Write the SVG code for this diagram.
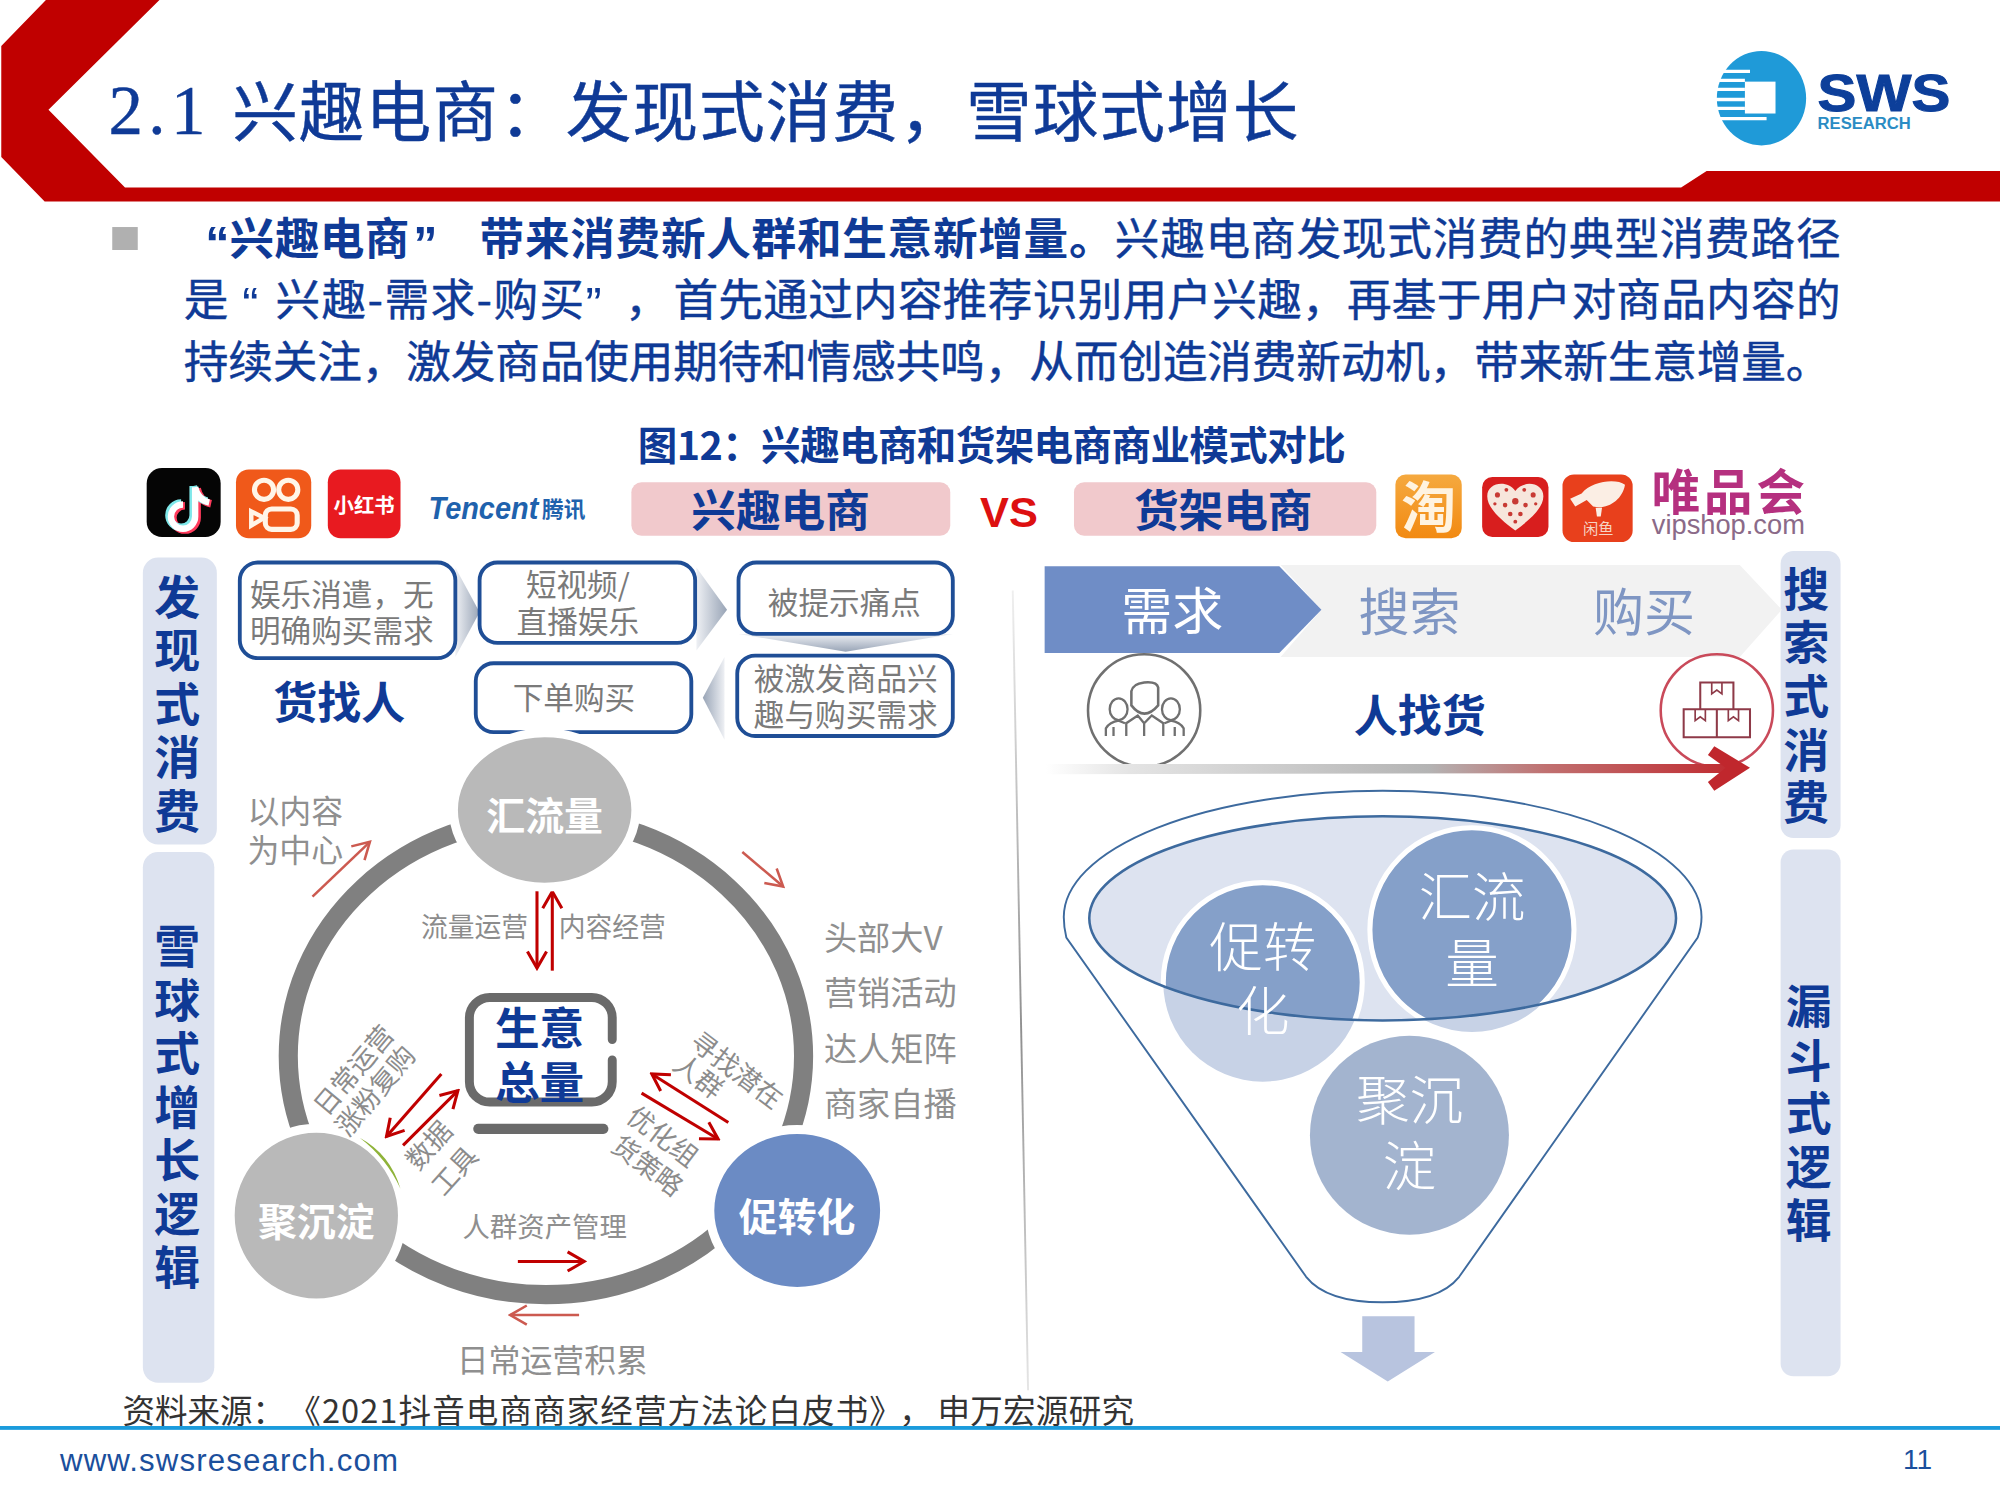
<svg xmlns="http://www.w3.org/2000/svg" width="2000" height="1500" viewBox="0 0 2000 1500">
<style>
text{font-family:"Noto Sans CJK SC","Liberation Sans",sans-serif}
.blue{fill:#0f3a96}
.b{font-weight:700}
.w{stroke:#0f3a96;stroke-width:.35}
.side{font-weight:700;font-size:36px;fill:#0f3a96;text-anchor:middle}
.sidebg{fill:#dde3f0}
.box{fill:#fff;stroke:#1f4e96;stroke-width:3}
.boxt{font-size:24px;fill:#7a7a7a;text-anchor:middle}
.g{fill:#8f8f8f}
.dl{font-size:21px;fill:#8c8c8c;text-anchor:middle}
.nt{font-size:30.5px;font-weight:700;fill:#fff;text-anchor:middle}
.ft{font-size:42px;fill:#fff;text-anchor:middle;font-weight:300}
.sv{font-family:"Liberation Sans",sans-serif}
.ra{fill:none;stroke:#c00000;stroke-width:2.4;marker-end:url(#arD)}
.rl{fill:none;stroke:#cc5a50;stroke-width:2;marker-end:url(#arL)}
.fl{fill:none;stroke:#3d6a9e}
</style>
<defs>
<marker id="arD" viewBox="-15 -9 17 18" refX="0" refY="0" markerWidth="17" markerHeight="18" orient="auto" markerUnits="userSpaceOnUse"><path d="M-13 -7.5L0 0L-13 7.5" fill="none" stroke="#c00000" stroke-width="2.4"/></marker>
<marker id="arL" viewBox="-15 -9 17 18" refX="0" refY="0" markerWidth="17" markerHeight="18" orient="auto" markerUnits="userSpaceOnUse"><path d="M-13 -7.5L0 0L-13 7.5" fill="none" stroke="#cc5a50" stroke-width="2"/></marker>
<linearGradient id="chevR" x1="0" x2="1" y1="0" y2="0"><stop offset="0" stop-color="#eef0f4"/><stop offset="1" stop-color="#98a4b6"/></linearGradient>
<linearGradient id="chevL" x1="1" x2="0" y1="0" y2="0"><stop offset="0" stop-color="#eef0f4"/><stop offset="1" stop-color="#98a4b6"/></linearGradient>
<linearGradient id="chevD" x1="0" x2="0" y1="0" y2="1"><stop offset="0" stop-color="#eef0f4"/><stop offset="1" stop-color="#98a4b6"/></linearGradient>
<linearGradient id="ga" gradientUnits="userSpaceOnUse" x1="820" x2="1365" y1="0" y2="0"><stop offset="0" stop-color="#fff"/><stop offset=".12" stop-color="#e4e4e4"/><stop offset=".55" stop-color="#b4b4b4"/><stop offset=".72" stop-color="#c07070"/><stop offset="1" stop-color="#c0272d"/></linearGradient>
<linearGradient id="dv" gradientUnits="userSpaceOnUse" x1="0" x2="0" y1="460" y2="1092"><stop offset="0" stop-color="#f0f0f0"/><stop offset=".55" stop-color="#8f8f8f"/><stop offset="1" stop-color="#e6e6e6"/></linearGradient>
<linearGradient id="tb" x1="0" x2="0" y1="0" y2="1"><stop offset="0" stop-color="#f5a93f"/><stop offset="1" stop-color="#f28a12"/></linearGradient>
<clipPath id="inEl"><ellipse cx="1084" cy="720" rx="230" ry="80"/></clipPath>
</defs>
<rect width="2000" height="1500" fill="#fff"/>
<g transform="scale(1.27551)">
<g id="header">
<polygon points="36,0 125,0 38,86 98,147 1318,147 1338,134 1568,134 1568,158 35,158 1,123 1,36" fill="#c00000"/>
<text x="85" y="105" font-size="54" class="blue w" style="font-family:'Liberation Serif',serif" textLength="76">2.1</text>
<text x="182" y="107" font-size="51.5" class="blue w" textLength="836">兴趣电商：发现式消费，雪球式增长</text>
</g>
<g id="logo-sws">
<ellipse cx="1381" cy="77" rx="35" ry="37" fill="#1f9ad8"/>
<rect x="1368" y="64" width="24" height="25" fill="#fff"/>
<path d="M1342 56H1372M1342 63H1368M1342 70H1368M1342 78H1368M1342 85H1368M1346 93H1385" stroke="#fff" stroke-width="2.6" fill="none"/>
<text x="1425" y="87" font-size="41" font-weight="700" fill="#0d3f9a" stroke="#0d3f9a" stroke-width=".8" class="sv" textLength="104" lengthAdjust="spacingAndGlyphs">SWS</text>
<text x="1425" y="101" font-size="12.5" font-weight="700" fill="#2a8cc4" class="sv" textLength="73" lengthAdjust="spacingAndGlyphs">RESEARCH</text>
</g>
<g id="intro">
<rect x="88" y="178" width="20" height="18" fill="#b0b0b0"/>
<text x="161" y="204" font-size="38" class="blue b sv">“</text>
<text x="180" y="200" font-size="35" class="blue b" textLength="141">兴趣电商</text>
<text x="324" y="204" font-size="38" class="blue b sv">”</text>
<text x="376" y="200" font-size="35" class="blue b" textLength="497">带来消费新人群和生意新增量。</text>
<text x="874" y="200" font-size="35" class="blue w" textLength="569">兴趣电商发现式消费的典型消费路径</text>
<text x="144" y="248" font-size="35" class="blue w">是</text>
<text x="190" y="252" font-size="38" class="blue sv">“</text>
<text x="216" y="248" font-size="35" class="blue w" textLength="242">兴趣-需求-购买</text>
<text x="459" y="252" font-size="38" class="blue sv">”</text>
<text x="490" y="248" font-size="35" class="blue w">，</text>
<text x="528" y="248" font-size="35" class="blue w" textLength="915">首先通过内容推荐识别用户兴趣，再基于用户对商品内容的</text>
<text x="144" y="296" font-size="35" class="blue w" textLength="1291">持续关注，激发商品使用期待和情感共鸣，从而创造消费新动机，带来新生意增量。</text>
</g>
<text id="caption" x="500" y="361" font-size="31" class="blue b" textLength="555">图12：兴趣电商和货架电商商业模式对比</text>

<g id="logos-left">
<rect x="115" y="367" width="58" height="54" rx="12" fill="#050505"/>
<path d="M153 382V405a9.5 9.5 0 1 1-9.5-9.5M153 382q2 10 11 12" fill="none" stroke="#ff3b5c" stroke-width="6" transform="translate(1.5 1)"/>
<path d="M153 382V405a9.5 9.5 0 1 1-9.5-9.5M153 382q2 10 11 12" fill="none" stroke="#7fe8ea" stroke-width="6" transform="translate(-1.5 -1)"/>
<path d="M153 382V405a9.5 9.5 0 1 1-9.5-9.5M153 382q2 10 11 12" fill="none" stroke="#fff" stroke-width="5"/>
<rect x="185" y="368" width="59" height="54" rx="10" fill="#f0591a"/>
<g fill="none" stroke="#fff5e8" stroke-width="4"><circle cx="207" cy="384" r="7.5"/><circle cx="226" cy="384" r="7.500"/><rect x="208" y="399" width="25" height="16" rx="5"/></g>
<path d="M197 401L207 406L197 412Z" fill="none" stroke="#fff5e8" stroke-width="3.5"/>
<rect x="257" y="368" width="57" height="54" rx="10" fill="#e81a20"/>
<text x="285.500" y="402" font-size="16" font-weight="700" fill="#fff" text-anchor="middle">小红书</text>
<text x="336" y="407" font-size="25" font-weight="700" font-style="italic" fill="#1f62ad" class="sv" textLength="86" lengthAdjust="spacingAndGlyphs">Tencent</text>
<text x="425" y="405" font-size="17" font-weight="700" fill="#1f62ad" textLength="34">腾讯</text>
</g>
<g id="tag-interest">
<rect x="495" y="378" width="250" height="42" rx="8" fill="#f1c9cc"/>
<text x="612" y="413" font-size="35" text-anchor="middle" class="blue b">兴趣电商</text>
</g>
<text id="vs" x="791" y="413" font-size="34" font-weight="700" fill="#dd1010" text-anchor="middle" class="sv">VS</text>
<g id="tag-shelf">
<rect x="842" y="378" width="237" height="42" rx="8" fill="#f1c9cc"/>
<text x="959" y="413" font-size="35" text-anchor="middle" class="blue b">货架电商</text>
</g>
<g id="logos-right">
<rect x="1094" y="372" width="52" height="50" rx="8" fill="url(#tb)"/>
<text x="1120" y="413" font-size="43" font-weight="700" fill="#fff3e0" text-anchor="middle">淘</text>
<rect x="1162" y="374" width="52" height="47" rx="8" fill="#d81e1e"/>
<path d="M1188 416C1176 407 1166 398 1166 389C1166 378 1182 376 1188 385C1194 376 1210 378 1210 389C1210 398 1200 407 1188 416Z" fill="#f7e6dc"/>
<g fill="#c83a34"><circle cx="1174" cy="388" r="2"/><circle cx="1181" cy="384" r="1.500"/><circle cx="1202" cy="388" r="2"/><circle cx="1195" cy="384" r="1.500"/><circle cx="1188" cy="393" r="2.500"/><circle cx="1180" cy="396" r="1.800"/><circle cx="1196" cy="396" r="1.800"/><circle cx="1184" cy="403" r="1.800"/><circle cx="1192" cy="403" r="1.800"/><circle cx="1188" cy="409" r="1.500"/><circle cx="1172" cy="395" r="1.300"/><circle cx="1204" cy="395" r="1.300"/></g>
<rect x="1225" y="372" width="55" height="53" rx="9" fill="#e8401c"/>
<path d="M1231 391L1240 387C1248 377 1267 375 1274 380C1272 392 1260 400 1249 397L1244 392L1235 397Z" fill="#fbeee4"/>
<path d="M1251 398L1256 398L1255 405L1252 405Z" fill="#fbeee4"/>
<text x="1253" y="419" font-size="12" fill="#f6d4c4" text-anchor="middle">闲鱼</text>
<text x="1295" y="400" font-size="38" font-weight="700" fill="#b5307f" textLength="120">唯品会</text>
<text x="1295" y="419" font-size="22" fill="#8b6a88" class="sv" textLength="120" lengthAdjust="spacingAndGlyphs">vipshop.com</text>
</g>

<g id="side-discovery">
<rect x="112" y="437" width="58" height="225" rx="12" class="sidebg"/>
<text class="side" x="139 139 139 139 139" y="481 523 565 607 649">发现式消费</text>
</g>
<g id="side-snowball">
<rect x="112" y="668" width="56" height="416" rx="12" class="sidebg"/>
<text class="side" x="139 139 139 139 139 139 139" y="755 797 839 881 923 965 1007">雪球式增长逻辑</text>
</g>
<g id="side-search">
<rect x="1396" y="432" width="47" height="225" rx="10" class="sidebg"/>
<text class="side" x="1416 1416 1416 1416 1416" y="475 517 559 601 642">搜索式消费</text>
</g>
<g id="side-funnel">
<rect x="1396" y="666" width="47" height="413" rx="10" class="sidebg"/>
<text class="side" x="1418 1418 1418 1418 1418" y="802 844 886 928 970">漏斗式逻辑</text>
</g>

<g id="flow-connectors">
<polygon points="357,445 376,480 357,515" fill="url(#chevR)"/>
<polygon points="546,445 570,478 546,510" fill="url(#chevR)"/>
<polygon points="579,497 747,497 663,511" fill="url(#chevD)"/>
<polygon points="568,515 551,547 568,580" fill="url(#chevL)"/>
</g>
<g id="n-entertain"><rect x="188" y="441" width="169" height="75" rx="14" class="box"/><text class="boxt" x="268" y="475">娱乐消遣，无</text><text class="boxt" x="268" y="503">明确购买需求</text></g>
<g id="n-video"><rect x="376" y="441" width="169" height="63" rx="14" class="box"/><text class="boxt" x="453" y="467">短视频/</text><text class="boxt" x="453" y="496">直播娱乐</text></g>
<g id="n-pain"><rect x="579" y="441" width="168" height="56" rx="14" class="box"/><text class="boxt" x="662" y="481">被提示痛点</text></g>
<g id="n-want"><rect x="578" y="514" width="169" height="63" rx="14" class="box"/><text class="boxt" x="663" y="541">被激发商品兴</text><text class="boxt" x="663" y="569">趣与购买需求</text></g>
<g id="n-buy"><rect x="373" y="520" width="169" height="54" rx="14" class="box"/><text class="boxt" x="450" y="556">下单购买</text></g>
<text id="goods-find" x="266" y="564" font-size="34.500" text-anchor="middle" class="blue b">货找人</text>

<g id="ring-connectors">
<ellipse cx="428" cy="828" rx="202" ry="187" fill="none" stroke="#808080" stroke-width="15"/>
<path class="rl" d="M245 703L290 660"/>
<path class="rl" d="M582 668L614 695"/>
<path class="ra" d="M421 698V759"/>
<path class="ra" d="M433 761V699"/>
<path class="ra" d="M346 842L303 891"/>
<path class="ra" d="M316 898L359 855"/>
<path class="ra" d="M571 880L511 842"/>
<path class="ra" d="M503 857L563 893"/>
<path class="ra" d="M406 989H458"/>
<path class="rl" d="M454 1031H400"/>
</g>
<g id="n-traffic"><ellipse cx="427" cy="635" rx="71.500" ry="60.500" fill="#b9b9b9" stroke="#fff" stroke-width="7"/><text class="nt" x="427" y="651">汇流量</text></g>
<g id="n-settle"><ellipse cx="248" cy="953" rx="67.500" ry="68.500" fill="#b9b9b9" stroke="#fff" stroke-width="7"/><path d="M282 892Q306 905 314 932Q303 908 282 892Z" fill="#8fb339"/><text class="nt" x="248" y="969">聚沉淀</text></g>
<g id="n-convert"><ellipse cx="625" cy="949" rx="68.500" ry="63.500" fill="#6b8bc4" stroke="#fff" stroke-width="7"/><text class="nt" x="625" y="965">促转化</text></g>
<g id="n-gmv">
<path d="M480 815V798A16 16 0 0 0 464 782H384A16 16 0 0 0 368 798V848A16 16 0 0 0 384 864H464A16 16 0 0 0 480 848V831" fill="none" stroke="#6a6a6a" stroke-width="7" stroke-linecap="round"/>
<path d="M375 885H473" stroke="#6a6a6a" stroke-width="8" stroke-linecap="round"/>
<text x="423" y="819" font-size="35" text-anchor="middle" class="blue b">生意</text>
<text x="423" y="862" font-size="35" text-anchor="middle" class="blue b">总量</text>
</g>
<g id="ring-labels">
<text class="dl" x="372" y="735">流量运营</text>
<text class="dl" x="480" y="735">内容经营</text>
<text class="dl" transform="translate(283 844) rotate(-50)">日常运营</text>
<text class="dl" transform="translate(300 860) rotate(-50)">涨粉复购</text>
<text class="dl" transform="translate(342 903) rotate(-48)">数据</text>
<text class="dl" transform="translate(362 923) rotate(-48)">工具</text>
<text class="dl" transform="translate(573 845) rotate(37)">寻找潜在</text>
<text class="dl" transform="translate(543 850) rotate(37)">人群</text>
<text class="dl" transform="translate(515 897) rotate(37)">优化组</text>
<text class="dl" transform="translate(503 920) rotate(37)">货策略</text>
<text x="194" y="645" font-size="25" class="g">以内容</text>
<text x="194" y="676" font-size="25" class="g">为中心</text>
<text x="646" y="745" font-size="26" class="g">头部大V</text>
<text x="646" y="788" font-size="26" class="g">营销活动</text>
<text x="646" y="832" font-size="26" class="g">达人矩阵</text>
<text x="646" y="875" font-size="26" class="g">商家自播</text>
<text x="427" y="970" font-size="21.500" text-anchor="middle" class="g">人群资产管理</text>
<text x="433" y="1076" font-size="25" text-anchor="middle" class="g">日常运营积累</text>
</g>

<path id="divider" d="M794 463L806 1090" stroke="url(#dv)" stroke-width="1.500" fill="none"/>

<g id="path-search">
<polygon points="1004,443 1364,443 1397,478 1364,515 1004,515 1036,478" fill="#f2f2f2"/>
<polygon points="819,444 1003,444 1036,478 1003,512 819,512" fill="#6f8dc6"/>
<text x="919" y="494" font-size="40" fill="#fff" text-anchor="middle">需求</text>
<text x="1105" y="495" font-size="40" fill="#7f96c3" text-anchor="middle">搜索</text>
<text x="1289" y="495" font-size="40" fill="#7f96c3" text-anchor="middle">购买</text>
</g>
<g id="icon-people" fill="none" stroke="#707070" stroke-width="2">
<circle cx="897" cy="557" r="44"/>
<path d="M887 542Q888 536 897 535Q907 534 908 539L908 553Q897 566 887 553Z"/>
<ellipse cx="877" cy="556" rx="7" ry="8.500" stroke-width="1.800"/>
<ellipse cx="918" cy="556" rx="7" ry="8.500" stroke-width="1.800"/>
<path d="M867 577V571Q870 566 877 565L882 567M928 577V571Q925 566 918 565L913 567M883 577V567L892 561L897 567L903 561L912 567V577M897 567V577M873 577V570M921 577V570" stroke-width="1.800"/>
</g>
<text id="people-find" x="1113" y="574" font-size="34.500" text-anchor="middle" class="blue b">人找货</text>
<g id="icon-boxes" fill="none" stroke="#8e3a48" stroke-width="1.600">
<circle cx="1346" cy="557" r="44" stroke="#c94a5a" stroke-width="2"/>
<path d="M1333 535H1359V556H1333ZM1320 556H1346V578H1320ZM1346 556H1372V578H1346Z"/>
<path d="M1342 535V544L1346 541L1350 544V535M1329 556V565L1333 562L1337 565V556M1355 556V565L1359 562L1363 565V556" stroke-width="1.300"/>
</g>
<g id="arrow-red">
<polygon points="820,599 1362,599 1362,606 820,607" fill="url(#ga)"/>
<polygon points="1344,585 1372,602 1344,620 1339,613 1353,602 1339,592" fill="#c0272d"/>
</g>

<g id="funnel">
<path class="fl" d="M836 735Q834 727 834 719A250 99 0 0 1 1334 719Q1334 727 1331 735L1144 1001Q1128 1021 1084 1021Q1040 1021 1024 1001Z" fill="#fff" stroke-width="1.500"/>
<ellipse cx="1084" cy="720" rx="230" ry="80" fill="#dde3f0"/>
<circle cx="990" cy="770" r="78" fill="#c7d2e6"/>
<circle cx="1154" cy="729" r="80" fill="#c7d2e6"/>
<g clip-path="url(#inEl)">
<circle cx="990" cy="770" r="78" fill="#85a0c9" stroke="#fff" stroke-width="4"/>
<circle cx="1154" cy="729" r="80" fill="#85a0c9" stroke="#fff" stroke-width="4"/>
</g>
<ellipse class="fl" cx="1084" cy="720" rx="230" ry="80" stroke-width="2"/>
<circle cx="1105" cy="890" r="78" fill="#a3b4cf"/>
</g>
<g id="n-f-convert"><text class="ft" x="990" y="758">促转</text><text class="ft" x="990" y="808">化</text></g>
<g id="n-f-traffic"><text class="ft" x="1154" y="719">汇流</text><text class="ft" x="1154" y="771">量</text></g>
<g id="n-f-settle"><text class="ft" x="1105" y="878">聚沉</text><text class="ft" x="1105" y="930">淀</text></g>
<polygon id="arrow-down" points="1068,1032 1109,1032 1109,1060 1125,1060 1088,1083 1051,1060 1068,1060" fill="#b8c4df"/>

<g id="footer">
<text x="96" y="1116" font-size="25.500" fill="#333">资料来源：</text>
<text x="226" y="1116" font-size="25.500" fill="#333" textLength="481">《2021抖音电商商家经营方法论白皮书》</text>
<text x="705" y="1116" font-size="25.500" fill="#333">，</text>
<text x="735" y="1116" font-size="25.500" fill="#333" textLength="154">申万宏源研究</text>
<rect x="0" y="1118" width="1568" height="3" fill="#1a9bdc"/>
<text x="47" y="1153" font-size="24.500" fill="#1b4f9c" class="sv" textLength="265">www.swsresearch.com</text>
<text x="1492" y="1152" font-size="22" fill="#1b4f9c" class="sv">11</text>
</g>
</g>
</svg>
